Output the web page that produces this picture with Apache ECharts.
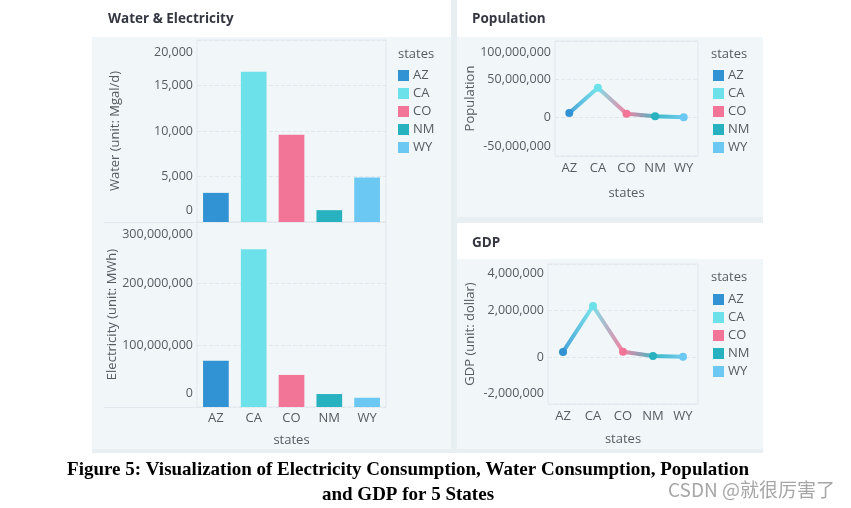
<!DOCTYPE html>
<html><head><meta charset="utf-8">
<script src="https://cdn.jsdelivr.net/npm/echarts@6/dist/echarts.min.js"></script>
<style>html,body{margin:0;padding:0;background:#fff}#c{width:851px;height:508px}</style>
</head><body><div id="c"></div>
<script>
const states = ['AZ', 'CA', 'CO', 'NM', 'WY'];
const stateColors = ['#3193d3', '#6ce1e9', '#f27597', '#28b2c0', '#6ac8f3'];
const water = [3200, 16500, 9600, 1300, 4900];
const electricity = [75000000, 256000000, 52000000, 21000000, 15000000];
const population = [6000000, 39000000, 5000000, 2000000, 600000];
const gdp = [230000, 2200000, 240000, 60000, 30000];
const waterTicks = [0, 20000, 5000];
const elecTicks = [0, 300000000, 100000000];
const popTicks = [-50000000, 100000000, 50000000];
const gdpTicks = [-2000000, 4000000, 2000000];

const FONT = 'Open Sans';
const LBL = '#555b60';
const fmt = v => String(v).replace(/\B(?=(\d{3})+(?!\d))/g, ',');

function yAx(gi, name, t, gap, offTop, offBot) {
  return {
    type: 'value', gridIndex: gi, min: t[0], max: t[1], interval: t[2],
    name: name, nameLocation: 'middle', nameGap: gap, nameRotate: 90,
    nameTextStyle: {color: LBL, fontSize: 13, fontFamily: FONT},
    axisLine: {show: false}, axisTick: {show: false},
    axisLabel: {color: LBL, fontSize: 12.5, fontFamily: FONT, margin: 4,
      formatter: v => v === t[1] ? '{t|' + fmt(v) + '}' : (v === t[0] ? '{b|' + fmt(v) + '}' : fmt(v)),
      rich: {
        t: {fontSize: 12.5, fontFamily: FONT, color: LBL, lineHeight: offTop * 2},
        b: {fontSize: 12.5, fontFamily: FONT, color: LBL, lineHeight: offBot * 2}
      },
      verticalAlignMaxLabel: 'top', verticalAlignMinLabel: 'bottom'},
    splitLine: {show: true, lineStyle: {color: '#e1e7ec', type: 'dashed', width: 1}}
  };
}
function xAx(gi, show, margin, gap) {
  return {
    type: 'category', gridIndex: gi, data: states,
    axisLine: {show: false}, axisTick: {show: false},
    axisLabel: {show: show, color: LBL, fontSize: 13, fontFamily: FONT, margin: margin},
    name: show ? 'states' : '', nameLocation: 'middle', nameGap: gap,
    nameTextStyle: {color: LBL, fontSize: 13, fontFamily: FONT}
  };
}
const gridBase = {show: true, borderColor: '#e2e8ed', borderWidth: 1, containLabel: false};

const series = [];
states.forEach((s, i) => {
  series.push({type: 'bar', name: s, xAxisIndex: 0, yAxisIndex: 0, stack: 'w', barCategoryGap: '32%',
    itemStyle: {color: stateColors[i]}, data: water.map((v, j) => j === i ? v : '-')});
  series.push({type: 'bar', name: s, xAxisIndex: 1, yAxisIndex: 1, stack: 'e', barCategoryGap: '32%',
    itemStyle: {color: stateColors[i]}, data: electricity.map((v, j) => j === i ? v : '-')});
});
const grad = () => ({type: 'linear', x: 0, y: 0, x2: 1, y2: 0,
  colorStops: stateColors.map((c, i) => ({offset: i / (stateColors.length - 1), color: c}))});
[[population, 2], [gdp, 3]].forEach(([vals, gi]) => {
  series.push({type: 'line', xAxisIndex: gi, yAxisIndex: gi, data: vals, symbol: 'none', z: 2,
    lineStyle: {width: 4, color: grad(), opacity: 0.9}});
  states.forEach((s, i) => {
    series.push({type: 'scatter', name: s, xAxisIndex: gi, yAxisIndex: gi, data: [[i, vals[i]]],
      symbolSize: 8, z: 3, itemStyle: {color: stateColors[i], opacity: 1}});
  });
});

function legend(left, top) {
  return {data: states, left: left, top: top, orient: 'vertical', icon: 'rect', itemWidth: 11, itemHeight: 11,
    itemGap: 5, selectedMode: false, padding: 0,
    textStyle: {color: LBL, fontSize: 13, fontFamily: FONT, padding: [0, 0, 0, -1]}};
}
function txt(text, x, y, font, fill, align) {
  return {type: 'text', z: 10, style: {text: text, x: x, y: y, font: font, fill: fill || LBL,
    align: align || 'left', verticalAlign: 'middle'}};
}
function rect(x, y, w, h, fill) {
  return {type: 'rect', z: -100, silent: true, shape: {x: x, y: y, width: w, height: h}, style: {fill: fill}};
}
function hline(x1, x2, y) {
  return {type: 'line', z: -50, silent: true, shape: {x1: x1, y1: y, x2: x2, y2: y},
    style: {stroke: '#e2e8ed', lineWidth: 1}};
}
const BG = '#e8eff2', BODY = '#f1f6f9';
const TF = 'bold 13.5px "Open Sans"';
const LF = '13px "Open Sans"';
const CF = 'bold 19px "Liberation Serif"';
const graphics = [
  rect(92, 0, 671, 453, BG),
  rect(92, 0, 359, 37, '#ffffff'), rect(92, 37, 359, 412, BODY),
  rect(457, 0, 306, 37, '#ffffff'), rect(457, 37, 306, 180, BODY),
  rect(457, 223, 306, 36, '#ffffff'), rect(457, 259, 306, 190, BODY),
  hline(104, 197, 222.5), hline(104, 197, 407.5),
  txt('Water & Electricity', 108, 19, TF, '#343741'),
  txt('Population', 472, 19, TF, '#343741'),
  txt('GDP', 472, 243, TF, '#343741'),
  txt('states', 398, 54, LF), txt('states', 711, 54, LF), txt('states', 711, 277, LF),
  txt('Figure 5: Visualization of Electricity Consumption, Water Consumption, Population', 408, 470, CF, '#000', 'center'),
  txt('and GDP for 5 States', 408, 495, CF, '#000', 'center'),
  txt('CSDN @就很厉害了', 668, 490, '19px "Noto Sans CJK SC"', '#a6a6a6')
];

const chart = echarts.init(document.getElementById('c'), null, {renderer: 'canvas'});
chart.setOption({
  animation: false,
  backgroundColor: '#ffffff',
  grid: [
    Object.assign({left: 197, top: 40, width: 189, height: 182}, gridBase),
    Object.assign({left: 197, top: 222, width: 189, height: 185}, gridBase),
    Object.assign({left: 555, top: 41, width: 143, height: 115}, gridBase),
    Object.assign({left: 548, top: 264, width: 150, height: 140}, gridBase)
  ],
  xAxis: [xAx(0, false, 5, 0), xAx(1, true, 5, 27), xAx(2, true, 6, 31), xAx(3, true, 6, 29)],
  yAxis: [
    yAx(0, 'Water (unit: Mgal/d)', waterTicks, 75, 12, 12),
    yAx(1, 'Electricity (unit: MWh)', elecTicks, 77, 12, 14),
    yAx(2, 'Population', popTicks, 70, 11, 10),
    yAx(3, 'GDP (unit: dollar)', gdpTicks, 71, 9, 11)
  ],
  legend: [legend(398, 69), legend(713, 69), legend(713, 293)],
  graphic: graphics,
  series: series
});
</script></body></html>
